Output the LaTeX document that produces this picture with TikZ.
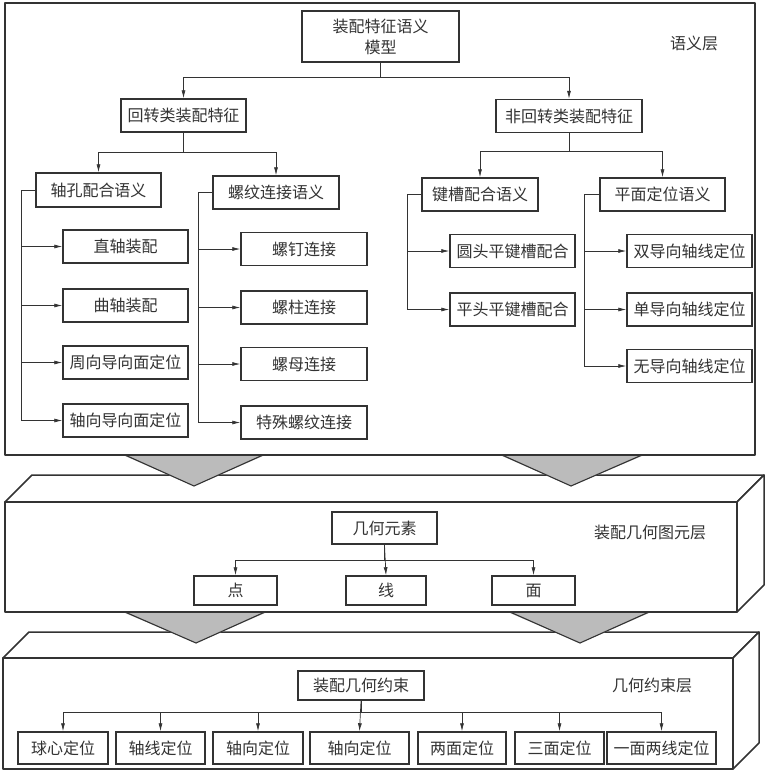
\documentclass[tikz,border=0pt]{standalone}
\usepackage{fontspec}
\usepackage{tikz}
\usetikzlibrary{arrows.meta}
\setmainfont{Noto Sans CJK SC}

\definecolor{ink}{HTML}{333333}
\definecolor{funnelgray}{HTML}{BBBBBB}

\tikzset{
  box/.style={draw=ink,line width=1.5pt,inner sep=0pt,minimum height=33pt,
    text=ink,font=\fontsize{16}{21}\selectfont},
  conn/.style={draw=ink,line width=0.7pt,-{Latex[length=8pt,width=4pt]}},
  layer/.style={draw=ink,line width=1.5pt,fill=white,line join=round},
  tag/.style={text=ink,font=\fontsize{16}{19}\selectfont},
  funnel/.style={fill=funnelgray},
  funnelside/.style={draw=ink,line width=1.1pt},
}

\begin{document}
\begin{tikzpicture}[x=1pt,y=-1pt]
        \useasboundingbox (0,0) rectangle (767,772);
        % semantic layer
        \draw[layer] (5,3) rectangle (755,455);
        \node[tag] (tsem) at (694,43) {语义层};
        \node[box,minimum width=157pt,minimum height=51pt,align=center] (model) at (380.5,36.5) {装配特征语义\\模型};
        \node[box,minimum width=125pt] (rot) at (183.5,115.5) {回转类装配特征};
        \node[box,minimum width=146pt] (nrot) at (569,116) {非回转类装配特征};
        \node[box,minimum width=125pt,minimum height=34pt] (zk) at (98.5,190) {轴孔配合语义};
        \node[box,minimum width=126pt] (lw) at (276,192.5) {螺纹连接语义};
        \node[box,minimum width=116pt] (jc) at (480,194.5) {键槽配合语义};
        \node[box,minimum width=125pt] (pm) at (662.5,194.5) {平面定位语义};
        \node[box,minimum width=125pt] (zz) at (125.5,246.5) {直轴装配};
        \node[box,minimum width=125pt] (qz) at (125.5,305.5) {曲轴装配};
        \node[box,minimum width=125pt] (zx) at (125.5,362.5) {周向导向面定位};
        \node[box,minimum width=125pt] (zxd) at (125.5,420.5) {轴向导向面定位};
        \node[box,minimum width=126pt] (ld) at (304,249) {螺钉连接};
        \node[box,minimum width=126pt] (lz) at (304,307.5) {螺柱连接};
        \node[box,minimum width=126pt] (lm) at (304,364) {螺母连接};
        \node[box,minimum width=126pt] (ts) at (304,422.5) {特殊螺纹连接};
        \node[box,minimum width=125pt] (yt) at (512.5,251) {圆头平键槽配合};
        \node[box,minimum width=125pt] (pt) at (512.5,309.5) {平头平键槽配合};
        \node[box,minimum width=125pt] (sd) at (689.5,251) {双导向轴线定位};
        \node[box,minimum width=125pt] (dd) at (689.5,309.5) {单导向轴线定位};
        \node[box,minimum width=125pt] (wd) at (689.5,366) {无导向轴线定位};
        \draw[conn] (model.south) -- ++(0,15) -| (rot.north);
        \draw[conn] (model.south) -- ++(0,15) -| (nrot.north);
        \draw[conn] (rot.south) -- ++(0,20) -| (zk.north);
        \draw[conn] (rot.south) -- ++(0,20) -| (lw.north);
        \draw[conn] (nrot.south) -- ++(0,18) -| (jc.north);
        \draw[conn] (nrot.south) -- ++(0,18) -| (pm.north);
        % side branches
        \draw[conn] (zk.west) -- ++(-14,0) |- (zz.west);
        \draw[conn] (zk.west) -- ++(-14,0) |- (qz.west);
        \draw[conn] (zk.west) -- ++(-14,0) |- (zx.west);
        \draw[conn] (zk.west) -- ++(-14,0) |- (zxd.west);
        \draw[conn] (lw.west) -- ++(-14,0) |- (ld.west);
        \draw[conn] (lw.west) -- ++(-14,0) |- (lz.west);
        \draw[conn] (lw.west) -- ++(-14,0) |- (lm.west);
        \draw[conn] (lw.west) -- ++(-14,0) |- (ts.west);
        \draw[conn] (jc.west) -- ++(-14,0) |- (yt.west);
        \draw[conn] (jc.west) -- ++(-14,0) |- (pt.west);
        \draw[conn] (pm.west) -- ++(-15,0) |- (sd.west);
        \draw[conn] (pm.west) -- ++(-15,0) |- (dd.west);
        \draw[conn] (pm.west) -- ++(-15,0) |- (wd.west);

        % geometric element layer
        \filldraw[layer] (5,502) -- (32,475) -- (764,475) -- (737,502) -- cycle;
        \filldraw[layer] (737,502) -- (764,475) -- (764,585) -- (737,612) -- cycle;
        \draw[layer] (5,502) rectangle (737,612);
        \fill[funnel] (125,456) -- (263,456) -- (194,486) -- cycle;
        \draw[funnelside] (125,455) -- (194,486) -- (263,455);
        \fill[funnel] (502,456) -- (642,456) -- (571,486) -- cycle;
        \draw[funnelside] (502,455) -- (571,486) -- (642,455);
        \node[tag] (tgeo) at (650,532) {装配几何图元层};
        \node[box,minimum width=105pt,minimum height=32pt] (geo) at (384.5,528) {几何元素};
        \node[box,minimum width=83pt,minimum height=29pt] (pt1) at (235.5,590.5) {点};
        \node[box,minimum width=80pt,minimum height=29pt] (ln1) at (386,590.5) {线};
        \node[box,minimum width=83pt,minimum height=29pt] (fc1) at (533.5,590.5) {面};
        \draw[conn] (geo.south) -- ++(0,16) -| (pt1.north);
        \draw[conn] (geo.south) -- (ln1.north);
        \draw[conn] (geo.south) -- ++(0,16) -| (fc1.north);

        % geometric constraint layer
        \filldraw[layer] (3,658) -- (29,632) -- (759,632) -- (733,658) -- cycle;
        \filldraw[layer] (733,658) -- (759,632) -- (759,743) -- (733,769) -- cycle;
        \draw[layer] (3,658) rectangle (733,769);
        \fill[funnel] (125,613) -- (265,613) -- (196,643) -- cycle;
        \draw[funnelside] (125,612) -- (196,643) -- (265,612);
        \fill[funnel] (510,613) -- (649,613) -- (580,643) -- cycle;
        \draw[funnelside] (510,612) -- (580,643) -- (649,612);
        \node[tag] (tcon) at (652,685) {几何约束层};
        \node[box,minimum width=126pt,minimum height=29pt] (gc) at (361,685.5) {装配几何约束};
        \node[box,minimum width=90pt,minimum height=32pt] (qx) at (63,748) {球心定位};
        \node[box,minimum width=89pt,minimum height=32pt] (zxw) at (160.5,748) {轴线定位};
        \node[box,minimum width=90pt,minimum height=32pt] (zw1) at (258,748) {轴向定位};
        \node[box,minimum width=99pt,minimum height=32pt] (zw2) at (359.5,748) {轴向定位};
        \node[box,minimum width=88pt,minimum height=32pt] (lmw) at (462,748) {两面定位};
        \node[box,minimum width=89pt,minimum height=32pt] (smw) at (559.5,748) {三面定位};
        \node[box,minimum width=109pt,minimum height=32pt] (ymlx) at (661.5,748) {一面两线定位};
        \draw[conn] (gc.south) -- ++(0,12) -| (qx.north);
        \draw[conn] (gc.south) -- ++(0,12) -| (zxw.north);
        \draw[conn] (gc.south) -- ++(0,12) -| (zw1.north);
        \draw[conn] (gc.south) -- (zw2.north);
        \draw[conn] (gc.south) -- ++(0,12) -| (lmw.north);
        \draw[conn] (gc.south) -- ++(0,12) -| (smw.north);
        \draw[conn] (gc.south) -- ++(0,12) -| (ymlx.north);
      \end{tikzpicture}
\end{document}
